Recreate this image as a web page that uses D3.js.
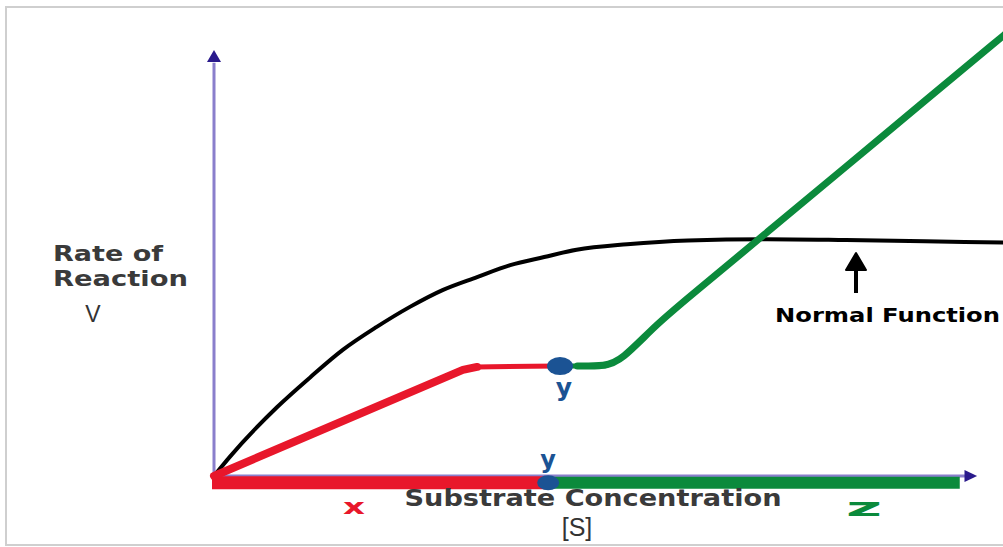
<!DOCTYPE html>
<html>
<head>
<meta charset="utf-8">
<script src="https://cdn.jsdelivr.net/npm/d3@7"></script>
<style>
html,body{margin:0;padding:0;background:#fff;}
svg{display:block;}
</style>
</head>
<body>
<svg id="chart" width="1003" height="547"></svg>
<script>
// ---- data (substrate concentration 0..100, rate 0..100) ----
const normalS    = [0, 2, 8, 12.2, 16.3, 20.6, 24.8, 29, 33.3, 37.5, 41.8, 45.9, 52.3, 60, 70, 80, 90, 100];
const normalV    = [0, 4.5, 16.2, 23.2, 29.6, 35, 39.7, 43.7, 46.7, 49.5, 51.4, 53.1, 54.4, 55.3, 55.6, 55.4, 55.1, 54.8];
const inhibitedS = [0, 31.5, 33.3, 43.8];
const inhibitedV = [0, 24.9, 25.6, 25.8];
const activatedS = [43.8, 46, 49.5, 51.5, 56, 60, 70, 80, 90, 100];
const activatedV = [25.8, 25.8, 25.8, 27.0, 35.6, 41.8, 57.2, 72.6, 88.1, 103.5];
const pointY     = {s: 43.8, v: 25.8};
const rangeX     = [0, 42.3];   // red range on S axis
const rangeZ     = [42.3, 94.4]; // green range on S axis
const axisLabels = {x: ["Substrate Concentration", "[S]"], y: ["Rate of", "Reaction", "V"]};
const rangeLabels = ["x", "y", "z"];
const noteLabel  = "Normal Function";

const svg = d3.select("#chart");
const W = 1003, H = 547;

const x = d3.scaleLinear().domain([0, 100]).range([214, 1004]);
const y = d3.scaleLinear().domain([0, 100]).range([476, 50]);

const RED = "#e8172b", GREEN = "#0b8a3c", BLUE = "#1b5394", NAVY = "#2a1a8c", AXIS = "#8a7fcc";

// frame
svg.append("rect").attr("x", 6).attr("y", 7).attr("width", 1010).attr("height", 538)
  .attr("fill", "#fff").attr("stroke", "#cfcfcf").attr("stroke-width", 2);

const clip = svg.append("defs").append("clipPath").attr("id", "frame");
clip.append("rect").attr("x", 7).attr("y", 8).attr("width", W).attr("height", H);

// axes
const g = svg.append("g").attr("clip-path", "url(#frame)");
g.append("line").attr("x1", x(0)).attr("x2", x(0)).attr("y1", y(-0.5)).attr("y2", y(97))
  .attr("stroke", AXIS).attr("stroke-width", 3);
g.append("path")
  .attr("d", `M${x(0)},${y(100)} L${x(0) - 7},${y(97.2)} L${x(0) + 7},${y(97.2)} Z`)
  .attr("fill", NAVY);
g.append("line").attr("x1", x(0)).attr("x2", x(95.5)).attr("y1", y(0)).attr("y2", y(0))
  .attr("stroke", AXIS).attr("stroke-width", 3);
g.append("path")
  .attr("d", `M${x(96.6)},${y(0)} L${x(95)},${y(0) - 6} L${x(95)},${y(0) + 6} Z`)
  .attr("fill", NAVY);

// range bars on S axis
const barY = y(-1.6);
g.append("line").attr("x1", x(rangeZ[0])).attr("x2", x(rangeZ[1])).attr("y1", barY).attr("y2", barY)
  .attr("stroke", GREEN).attr("stroke-width", 12).attr("stroke-linecap", "butt");
g.append("line").attr("x1", x(rangeX[0]) - 2).attr("x2", x(rangeX[1])).attr("y1", barY).attr("y2", barY)
  .attr("stroke", RED).attr("stroke-width", 13).attr("stroke-linecap", "butt");
g.append("ellipse").attr("cx", x(rangeX[1])).attr("cy", barY).attr("rx", 11).attr("ry", 7.5).attr("fill", BLUE);

// curves
const smooth = d3.line().x(d => x(d[0])).y(d => y(d[1])).curve(d3.curveMonotoneX);
const basis = d3.line().x(d => x(d[0])).y(d => y(d[1])).curve(d3.curveBasis);
const straight = d3.line().x(d => x(d[0])).y(d => y(d[1])).curve(d3.curveLinear);
g.append("path").datum(d3.zip(normalS, normalV))
  .attr("d", smooth).attr("fill", "none")
  .attr("stroke", "#000").attr("stroke-width", 4).attr("stroke-linecap", "round");
const act = d3.zip(activatedS, activatedV);
g.append("path").datum(act.slice(0, 3))
  .attr("d", straight).attr("fill", "none")
  .attr("stroke", GREEN).attr("stroke-width", 5).attr("stroke-linecap", "round");
g.append("path").datum(act.slice(1))
  .attr("d", basis).attr("fill", "none")
  .attr("stroke", GREEN).attr("stroke-width", 7).attr("stroke-linecap", "round");
const inh = d3.zip(inhibitedS, inhibitedV);
g.append("path").datum(inh.slice(1))
  .attr("d", smooth).attr("fill", "none")
  .attr("stroke", RED).attr("stroke-width", 5).attr("stroke-linecap", "round");
g.append("path").datum(inh.slice(0, 3))
  .attr("d", straight).attr("fill", "none")
  .attr("stroke", RED).attr("stroke-width", 8).attr("stroke-linecap", "round").attr("stroke-linejoin", "round");
g.append("ellipse").attr("cx", x(pointY.s)).attr("cy", y(pointY.v)).attr("rx", 13).attr("ry", 9).attr("fill", BLUE);

// axis labels
const bold = "'DejaVu Sans', sans-serif";
svg.append("text").attr("x", 593).attr("y", 506).attr("text-anchor", "middle")
  .attr("font-family", bold).attr("font-weight", "bold").attr("font-size", 23)
  .attr("fill", "#3a3a3a").attr("textLength", 377).attr("lengthAdjust", "spacingAndGlyphs")
  .text(axisLabels.x[0]);
svg.append("text").attr("x", 577).attr("y", 536).attr("text-anchor", "middle")
  .attr("font-family", "'Liberation Sans', Arial, sans-serif").attr("font-size", 25)
  .attr("fill", "#333").text(axisLabels.x[1]);

svg.append("text").attr("x", 53).attr("y", 261)
  .attr("font-family", bold).attr("font-weight", "bold").attr("font-size", 22)
  .attr("fill", "#3a3a3a").attr("textLength", 110).attr("lengthAdjust", "spacingAndGlyphs")
  .text(axisLabels.y[0]);
svg.append("text").attr("x", 53).attr("y", 286)
  .attr("font-family", bold).attr("font-weight", "bold").attr("font-size", 22)
  .attr("fill", "#3a3a3a").attr("textLength", 135).attr("lengthAdjust", "spacingAndGlyphs")
  .text(axisLabels.y[1]);
svg.append("text").attr("x", 93).attr("y", 322).attr("text-anchor", "middle")
  .attr("font-family", "'Liberation Sans', Arial, sans-serif").attr("font-size", 23)
  .attr("fill", "#333").text(axisLabels.y[2]);

// range labels
const hand = "'DejaVu Sans', sans-serif";
svg.append("text").attr("x", 354).attr("y", 514).attr("text-anchor", "middle")
  .attr("font-family", hand).attr("font-weight", "bold").attr("font-size", 22)
  .attr("fill", RED).attr("textLength", 22).attr("lengthAdjust", "spacingAndGlyphs")
  .text(rangeLabels[0]);
svg.append("text").attr("x", x(rangeX[1])).attr("y", 468).attr("text-anchor", "middle")
  .attr("font-family", hand).attr("font-weight", "bold").attr("font-size", 24)
  .attr("fill", BLUE).text(rangeLabels[1]);
svg.append("text").attr("x", x(pointY.s) + 4).attr("y", 396).attr("text-anchor", "middle")
  .attr("font-family", hand).attr("font-weight", "bold").attr("font-size", 25)
  .attr("fill", BLUE).text(rangeLabels[1]);
svg.append("text").attr("x", 864).attr("y", 516).attr("text-anchor", "middle")
  .attr("font-family", hand).attr("font-weight", "bold").attr("font-size", 24)
  .attr("fill", GREEN).attr("textLength", 36).attr("lengthAdjust", "spacingAndGlyphs")
  .text(rangeLabels[2]);

// note with arrow
svg.append("line").attr("x1", 856).attr("x2", 856).attr("y1", 293).attr("y2", 266)
  .attr("stroke", "#000").attr("stroke-width", 4);
svg.append("path").attr("d", "M856,253 L846,270 L866,270 Z").attr("fill", "#000")
  .attr("stroke", "#000").attr("stroke-width", 2).attr("stroke-linejoin", "round");
svg.append("text").attr("x", 775).attr("y", 322)
  .attr("font-family", hand).attr("font-weight", "bold").attr("font-size", 19)
  .attr("fill", "#000").attr("textLength", 225).attr("lengthAdjust", "spacingAndGlyphs")
  .text(noteLabel);
</script>
</body>
</html>
